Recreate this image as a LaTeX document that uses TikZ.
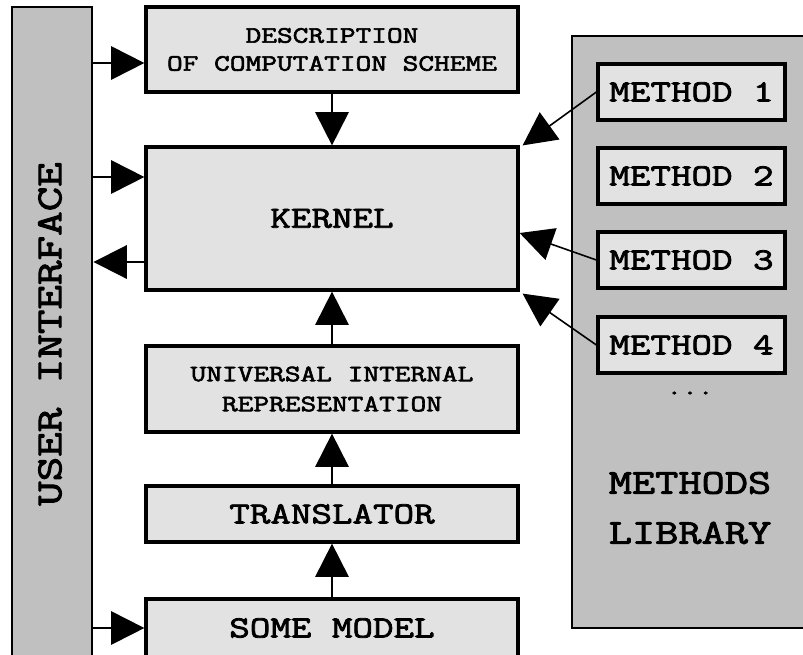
\documentclass[tikz,border=0pt]{standalone}
\usepackage{fontspec}
\newfontfamily\slabtt{Latin Modern Mono}[FakeStretch=1.3, FakeBold=2.6]
\usetikzlibrary{positioning,arrows.meta,calc}
\definecolor{panelgray}{HTML}{C0C0C0}
\definecolor{boxgray}{HTML}{E2E2E2}

\tikzset{
  block/.style={draw=black, fill=boxgray, line width=2.4pt, minimum width=279pt, inner sep=0pt, align=center},
  panel/.style={draw=black, fill=panelgray, line width=2.2pt, inner sep=0pt},
  methodbox/.style={block, minimum width=140.25pt, minimum height=42pt, font=\bigtt},
  link/.style={line width=1.5pt, -{Triangle[length=25pt,width=25pt]}},
  thinlink/.style={line width=1.2pt, -{Triangle[length=25pt,width=25pt]}},
}
\newcommand{\smalltt}{\slabtt\fontsize{17.6}{21}\selectfont}
\newcommand{\bigtt}{\slabtt\fontsize{23}{30}\selectfont}

\begin{document}
\begin{tikzpicture}[x=0.75pt,y=-0.75pt]
\clip (0,0) rectangle (803,654);
% side panels
\node[panel, minimum width=60pt, minimum height=487.5pt] (ui) at (52,332) {};
\node[rotate=90, font=\slabtt\fontsize{27.5}{36}\selectfont] at (50,334) {USER INTERFACE};
\node[panel, line width=1.8pt, minimum width=178.5pt, minimum height=444pt] (lib) at (691,332) {};
\node[font=\slabtt\fontsize{26}{37.5}\selectfont, align=center] (libtext) at (690,508) {METHODS\\LIBRARY};
\node[font=\smalltt] (dots) at (690,393) {...};

% central column
\node[block, minimum height=63.75pt, font=\smalltt] (desc) at (332,49.5) {DESCRIPTION\\OF COMPUTATION SCHEME};
\node[block, minimum height=107.25pt, font=\bigtt] (kernel) at (332,218.5) {KERNEL};
\node[block, minimum height=64.5pt, font=\slabtt\fontsize{17.6}{22.5}\selectfont] (univ) at (332,389) {UNIVERSAL INTERNAL\\REPRESENTATION};
\node[block, minimum height=42pt, font=\bigtt] (trans) at (332,514) {TRANSLATOR};
\node[block, minimum height=43.5pt, font=\bigtt] (model) at (332,628) {SOME MODEL};

% methods
\node[methodbox] (m1) at (691.5,92) {METHOD 1};
\node[methodbox] (m2) at (691.5,176) {METHOD 2};
\node[methodbox] (m3) at (691.5,260) {METHOD 3};
\node[methodbox] (m4) at (691.5,345) {METHOD 4};

% levels of the side arrows
\coordinate (ya) at (0,63);
\coordinate (yb) at (0,177);
\coordinate (yc) at (0,262);
\coordinate (yd) at (0,233);

\draw[link] (ui.east |- ya) -- (desc.west |- ya);
\draw[link] (ui.east |- yb) -- (kernel.west |- yb);
\draw[link] (kernel.west |- yc) -- (ui.east |- yc);
\draw[link] (ui.east |- model.west) -- (model.west);
\draw[link] (desc.south) -- (kernel.north);
\draw[link] (univ.north) -- (kernel.south);
\draw[link] (trans.north) -- (univ.south);
\draw[link] (model.north) -- (trans.south);

\draw[thinlink] (m1.west) -- ($(kernel.north east)+(3,0)$);
\draw[thinlink] (m3.west) -- (kernel.east |- yd);
\draw[thinlink] (m4.west) -- ($(kernel.south east)+(3,2)$);
\end{tikzpicture}
\end{document}
